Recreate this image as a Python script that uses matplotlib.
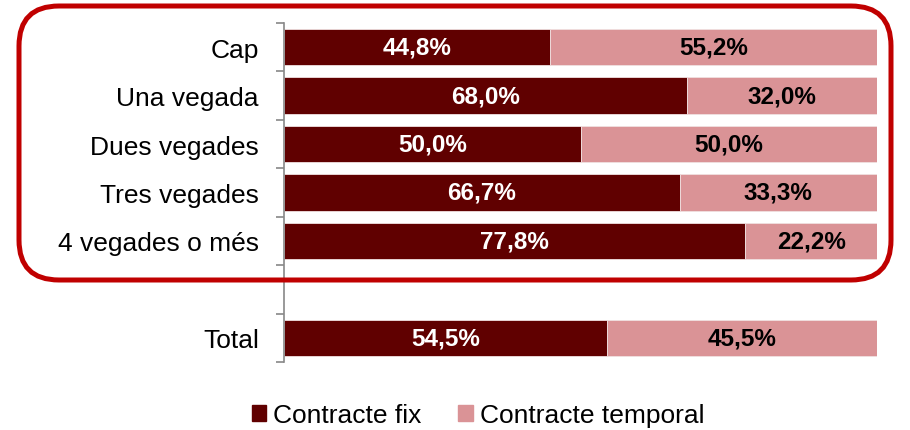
import numpy as np
import matplotlib.pyplot as plt
from matplotlib.patches import FancyBboxPatch, Patch

plt.rcParams['font.family'] = ['Liberation Sans', 'DejaVu Sans']

categories = ['Cap', 'Una vegada', 'Dues vegades', 'Tres vegades', '4 vegades o més', '', 'Total']
fix = [44.8, 68.0, 50.0, 66.7, 77.8, None, 54.5]
temporal = [55.2, 32.0, 50.0, 33.3, 22.2, None, 45.5]

c_fix = '#600000'
c_temp = '#DA9396'

fig = plt.figure(figsize=(9.1, 4.31), dpi=100)
ax = fig.add_axes([284 / 910, 1 - 363 / 431, 593 / 910, 339 / 431])

y = np.arange(len(categories))
for i, (f, t) in enumerate(zip(fix, temporal)):
    if f is None:
        continue
    ax.barh(i, f, height=0.75, color=c_fix, edgecolor='#f0e0e0', linewidth=0.6)
    ax.barh(i, t, left=f, height=0.75, color=c_temp, edgecolor='#f0e0e0', linewidth=0.6)
    ax.text(f / 2, i, f'{f:.1f}%'.replace('.', ','), ha='center', va='center',
            color='white', fontsize=17.5, fontweight='bold')
    ax.text(f + t / 2, i, f'{t:.1f}%'.replace('.', ','), ha='center', va='center',
            color='black', fontsize=17.5, fontweight='bold')

ax.set_xlim(0, 100)
ax.set_ylim(len(categories) - 0.5, -0.5)
ax.set_yticks(y)
ax.set_yticklabels(categories, fontsize=19)
ax.set_yticks(np.arange(-0.5, len(categories)), minor=True)
ax.tick_params(axis='y', which='major', length=0, pad=18)
ax.tick_params(axis='y', which='minor', length=5.5, color='#888888', width=1.2)
ax.set_xticks([])
for s in ['top', 'right', 'bottom']:
    ax.spines[s].set_visible(False)
ax.spines['left'].set_color('#888888')
ax.spines['left'].set_linewidth(1.2)

# overlay for the rounded frame
ov = fig.add_axes([0, 0, 1, 1], facecolor='none')
ov.set_xlim(0, 910)
ov.set_ylim(431, 0)
ov.axis('off')
box = FancyBboxPatch((19, 7), 872, 274, boxstyle='round,pad=0,rounding_size=40',
                     fill=False, edgecolor='#C00000', linewidth=3.6)
ov.add_patch(box)

handles = [Patch(color=c_fix, label='Contracte fix'),
           Patch(color=c_temp, label='Contracte temporal')]
fig.legend(handles=handles, loc='center', bbox_to_anchor=(478 / 910, 1 - 416 / 431),
           ncol=2, frameon=False, fontsize=19, handlelength=0.55, handleheight=0.55,
           handletextpad=0.25, columnspacing=1.4)

fig.savefig('out.png', dpi=100)
